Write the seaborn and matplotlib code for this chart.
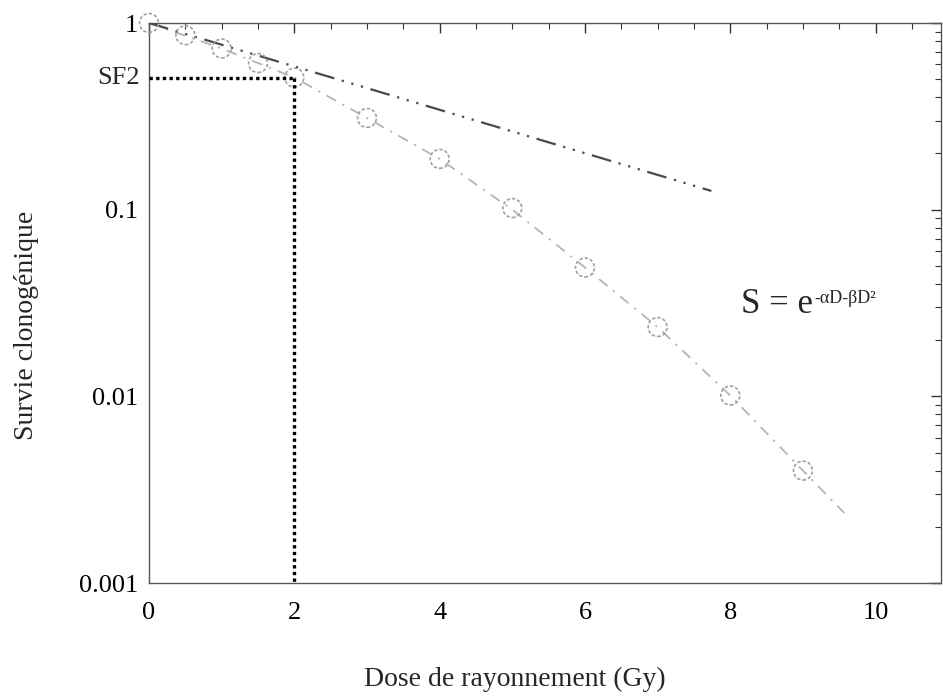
import numpy as np
import pandas as pd
import seaborn as sns
import matplotlib.pyplot as plt
from matplotlib.ticker import MultipleLocator, LogLocator, FuncFormatter, NullFormatter

# measured clonogenic survival (open circles)
dose = [0, 0.5, 1, 1.5, 2, 3, 4, 5, 6, 7, 8, 9]
survival = [1.0, 0.86, 0.73, 0.61, 0.51, 0.31, 0.187, 0.102, 0.049, 0.0235, 0.0101, 0.0040]

# linear-quadratic fit through the points
fit_dose = [0, 1, 2, 3, 4, 5, 6, 7, 8, 9, 9.57]
fit_surv = [1.0, 0.73, 0.51, 0.31, 0.187, 0.100, 0.049, 0.0235, 0.0101, 0.0040, 0.00237]

# alpha-only component (straight on log scale)
alpha_dose = [0, 7.74]
alpha_surv = [1.0, 0.126]

sf2_dose = 2
sf2_value = 0.51

x_ticks = [0, 2, 4, 6, 8, 10]
y_ticks = [0.001, 0.01, 0.1, 1]

sns.set_theme(style="white")
plt.rcParams['font.family'] = ['Liberation Serif', 'DejaVu Serif']

fig = plt.figure(figsize=(9.43, 6.98), dpi=100)
ax = fig.add_axes([149 / 943, 115 / 698, 792 / 943, 560 / 698])

pts = pd.DataFrame({"dose": dose, "survival": survival})
fit = pd.DataFrame({"dose": fit_dose, "survival": fit_surv})
alp = pd.DataFrame({"dose": alpha_dose, "survival": alpha_surv})

sns.lineplot(data=fit, x="dose", y="survival", ax=ax, color="#b5b5b5", lw=1.3,
             linestyle=(0, (6, 4, 1.2, 4)), zorder=2)
sns.lineplot(data=alp, x="dose", y="survival", ax=ax, color="#4a4a4a", lw=1.6,
             linestyle=(0, (9, 3.5, 1, 3.5, 1, 3.5, 1, 3.5)), zorder=3)
sns.scatterplot(data=pts, x="dose", y="survival", ax=ax, s=185, marker="o",
                facecolor="none", edgecolor="#a0a0a0", linewidth=1.2,
                linestyle=(0, (2, 1.2)), clip_on=False, zorder=4)

# SF2 guide
ax.plot([0, sf2_dose], [sf2_value, sf2_value], color="black", lw=2.4,
        linestyle=(0, (1, 1)), zorder=5)
ax.plot([sf2_dose, sf2_dose], [sf2_value, y_ticks[0]], color="black", lw=2.4,
        linestyle=(0, (1, 1)), zorder=5)
ax.text(-0.012, sf2_value, "SF2", transform=ax.get_yaxis_transform(),
        ha="right", va="center", fontsize=19)

t1 = ax.text(8.15, 0.028, "S = e", fontsize=25, ha="left", va="baseline")
ax.annotate("-αD-βD²", xy=(1, 0), xycoords=t1, xytext=(0.5, 13),
            textcoords="offset points", fontsize=13, ha="left", va="baseline")

ax.set_yscale("log")
ax.set_xlim(0, 10.9)
ax.set_ylim(0.001, 1)
ax.xaxis.set_major_locator(MultipleLocator(2))
ax.xaxis.set_minor_locator(MultipleLocator(0.5))
ax.yaxis.set_major_locator(LogLocator(base=10))
ax.yaxis.set_minor_locator(LogLocator(base=10, subs=np.arange(2, 10)))
ax.yaxis.set_minor_formatter(NullFormatter())
ax.yaxis.set_major_formatter(FuncFormatter(lambda v, p: f"{v:g}"))
ax.set_xticks(x_ticks)
ax.set_yticks(y_ticks)

ax.tick_params(which="both", direction="in", top=True, right=True, colors="#333333",
               labelcolor="black", labelsize=19)
ax.tick_params(which="major", length=7, width=1)
ax.tick_params(which="minor", length=4, width=0.8)
ax.tick_params(axis="x", which="major", pad=14)
ax.tick_params(axis="y", which="major", pad=8)

for sp in ax.spines.values():
    sp.set_color("#555555")
    sp.set_linewidth(1.0)

ax.set_xlabel("Dose de rayonnement (Gy)", fontsize=20)
ax.set_ylabel("Survie clonogénique", fontsize=20)
ax.xaxis.set_label_coords(0.462, -0.15)
ax.yaxis.set_label_coords(-0.139, 0.46)
ax.xaxis.label.set_va("top")

fig.savefig("out.png", dpi=100)
